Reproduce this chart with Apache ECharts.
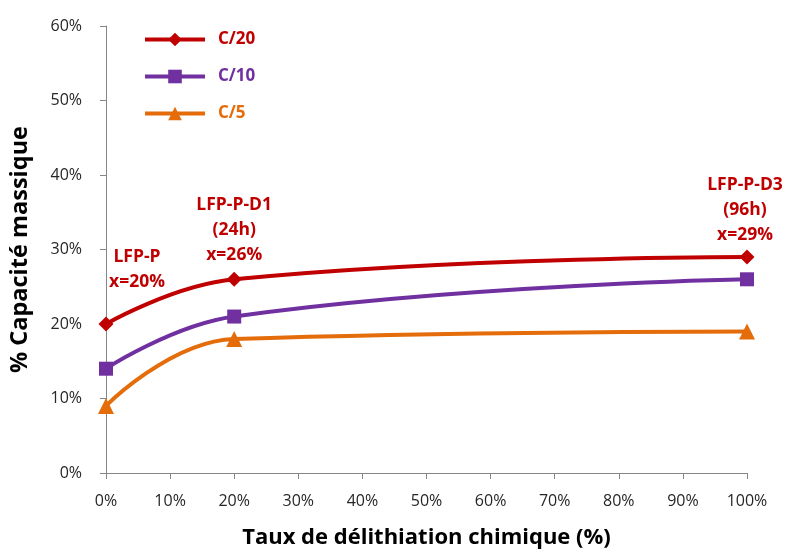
<!DOCTYPE html>
<html><head><meta charset="utf-8">
<script src="https://cdn.jsdelivr.net/npm/echarts@6/dist/echarts.min.js"></script>
<style>html,body{margin:0;padding:0;background:#fff}#c{width:785px;height:551px}</style>
</head><body><div id="c"></div>
<script>
const xValues = [0, 20, 100];
const c20 = [20, 26, 29];
const c10 = [14, 21, 26];
const c5 = [9, 18, 19];
const seriesNames = ['C/20', 'C/10', 'C/5'];
const annotations = ['LFP-P\nx=20%', 'LFP-P-D1\n(24h)\nx=26%', 'LFP-P-D3\n(96h)\nx=29%'];
const colors = ['#C00000', '#7030A0', '#E46C0A'];
const font = 'Open Sans, Liberation Sans, sans-serif';

const labelOffsets = [[31, -18], [0, 0], [-2, 2]];
function pts(arr, withLabels) {
  return arr.map((v, i) => {
    const d = { value: [xValues[i], v] };
    if (withLabels) {
      d.label = { show: true, position: 'top', distance: 4, offset: labelOffsets[i],
        formatter: annotations[i], color: '#C00000', fontWeight: 'bold', fontSize: 17.5,
        lineHeight: 25, fontFamily: font, align: 'center' };
    }
    return d;
  });
}
const chart = echarts.init(document.getElementById('c'));
chart.setOption({
  animation: false,
  grid: { left: 106, right: 38, top: 26, bottom: 78, outerBoundsMode: 'none', containLabel: false },
  legend: {
    orient: 'vertical', left: 138, top: 26, itemWidth: 60, itemHeight: 17, itemGap: 20,
    lineStyle: { width: 4 },
    data: seriesNames.map((n, i) => ({ name: n, textStyle: { color: colors[i] } })),
    textStyle: { fontSize: 17, fontWeight: 'bold', fontFamily: font, padding: [0, 0, 0, 8] }
  },
  xAxis: {
    type: 'value', min: 0, max: 100, interval: 10,
    name: 'Taux de délithiation chimique (%)', nameLocation: 'middle', nameGap: 54,
    nameTextStyle: { fontSize: 22, fontWeight: 'bold', color: '#000', fontFamily: font },
    axisLine: { lineStyle: { color: '#868686', width: 1 } },
    axisTick: { show: true, length: 6, lineStyle: { color: '#868686' } },
    axisLabel: { formatter: '{value}%', fontSize: 16, color: '#262626', margin: 20, fontFamily: font },
    splitLine: { show: false }
  },
  yAxis: {
    type: 'value', min: 0, max: 60, interval: 10,
    name: '% Capacité massique', nameLocation: 'middle', nameGap: 74, nameRotate: 90,
    nameTextStyle: { fontSize: 23.5, fontWeight: 'bold', color: '#000', fontFamily: font },
    axisLine: { show: true, lineStyle: { color: '#868686', width: 1 } },
    axisTick: { show: true, length: 6, lineStyle: { color: '#868686' } },
    axisLabel: { formatter: '{value}%', fontSize: 16, color: '#262626', margin: 24, fontFamily: font },
    splitLine: { show: false }
  },
  series: [
    { name: seriesNames[0], type: 'line', smooth: 0.45, data: pts(c20, true),
      symbol: 'diamond', symbolSize: 15, color: colors[0], lineStyle: { width: 4 } },
    { name: seriesNames[1], type: 'line', smooth: 0.45, data: pts(c10, false),
      symbol: 'rect', symbolSize: 14, color: colors[1], lineStyle: { width: 4 } },
    { name: seriesNames[2], type: 'line', smooth: 0.45, data: pts(c5, false),
      symbol: 'triangle', symbolSize: 16, color: colors[2], lineStyle: { width: 4 } }
  ]
});
</script></body></html>
